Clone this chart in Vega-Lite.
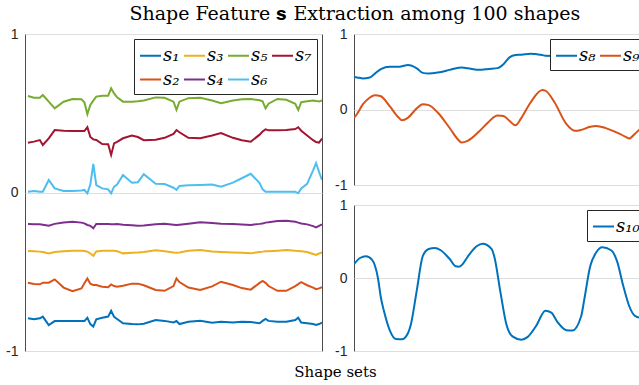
{
  "$schema": "https://vega.github.io/schema/vega-lite/v6.json",
  "padding": {"left": 5, "top": 4, "right": 0, "bottom": 0},
  "title": {"text": "Shape Feature 𝐬 Extraction among 100 shapes", "font": "DejaVu Serif", "fontSize": 19, "fontWeight": "normal", "color": "#000000", "anchor": "middle", "offset": 3, "dx": 27},
  "config": {
    "view": {"stroke": "#4d4d4d", "strokeWidth": 1},
    "axis": {"labelFont": "Liberation Sans", "labelFontSize": 14, "labelColor": "#262626", "gridColor": "#dedede", "gridWidth": 1, "domain": false, "ticks": false},
    "legend": {"orient": "top-right", "offset": 5, "symbolType": "stroke", "symbolSize": 440, "symbolStrokeWidth": 2, "labelFont": "DejaVu Serif", "labelFontStyle": "italic", "labelFontSize": 18, "labelColor": "#000000", "labelOffset": 1, "columnPadding": 0, "rowPadding": 3, "padding": 5, "strokeColor": "#262626", "fillColor": "#ffffff", "title": null, "cornerRadius": 0}
  },
  "bounds": "flush",
  "spacing": 32,
  "resolve": {"scale": {"color": "independent", "x": "independent", "y": "independent"}, "legend": {"color": "independent"}},
  "hconcat": [
    {
      "width": 297,
      "height": 317,
      "data": {"values": [
        {"x":1,"s1":-0.794,"s2":-0.569,"s3":-0.369,"s4":-0.199,"s5":0.609,"s6":0.005,"s7":0.314},
        {"x":3,"s1":-0.800,"s2":-0.577,"s3":-0.370,"s4":-0.200,"s5":0.598,"s6":0.010,"s7":0.321},
        {"x":5,"s1":-0.794,"s2":-0.579,"s3":-0.373,"s4":-0.201,"s5":0.598,"s6":0.005,"s7":0.331},
        {"x":6,"s1":-0.783,"s2":-0.569,"s3":-0.376,"s4":-0.203,"s5":0.615,"s6":0.005,"s7":0.300},
        {"x":8,"s1":-0.836,"s2":-0.569,"s3":-0.384,"s4":-0.209,"s5":0.573,"s6":0.079,"s7":0.342},
        {"x":10,"s1":-0.811,"s2":-0.548,"s3":-0.376,"s4":-0.198,"s5":0.531,"s6":0.026,"s7":0.394},
        {"x":13,"s1":-0.811,"s2":-0.600,"s3":-0.370,"s4":-0.190,"s5":0.573,"s6":0.010,"s7":0.390},
        {"x":16,"s1":-0.811,"s2":-0.623,"s3":-0.367,"s4":-0.184,"s5":0.590,"s6":0.010,"s7":0.388},
        {"x":19,"s1":-0.811,"s2":-0.605,"s3":-0.368,"s4":-0.190,"s5":0.588,"s6":0.012,"s7":0.388},
        {"x":20,"s1":-0.811,"s2":-0.573,"s3":-0.369,"s4":-0.195,"s5":0.570,"s6":0.016,"s7":0.388},
        {"x":21,"s1":-0.790,"s2":-0.542,"s3":-0.373,"s4":-0.205,"s5":0.495,"s6":-0.005,"s7":0.412},
        {"x":22,"s1":-0.830,"s2":-0.575,"s3":-0.385,"s4":-0.210,"s5":0.552,"s6":0.050,"s7":0.350},
        {"x":23,"s1":-0.846,"s2":-0.584,"s3":-0.399,"s4":-0.226,"s5":0.580,"s6":0.180,"s7":0.335},
        {"x":24,"s1":-0.800,"s2":-0.584,"s3":-0.372,"s4":-0.199,"s5":0.605,"s6":0.047,"s7":0.331},
        {"x":26,"s1":-0.790,"s2":-0.594,"s3":-0.367,"s4":-0.199,"s5":0.611,"s6":0.026,"s7":0.306},
        {"x":28,"s1":-0.783,"s2":-0.598,"s3":-0.367,"s4":-0.199,"s5":0.611,"s6":0.020,"s7":0.305},
        {"x":29,"s1":-0.746,"s2":-0.580,"s3":-0.367,"s4":-0.201,"s5":0.657,"s6":-0.005,"s7":0.237},
        {"x":30,"s1":-0.785,"s2":-0.590,"s3":-0.367,"s4":-0.200,"s5":0.625,"s6":0.037,"s7":0.310},
        {"x":31,"s1":-0.798,"s2":-0.594,"s3":-0.370,"s4":-0.199,"s5":0.600,"s6":0.050,"s7":0.320},
        {"x":33,"s1":-0.825,"s2":-0.588,"s3":-0.384,"s4":-0.203,"s5":0.573,"s6":0.110,"s7":0.342},
        {"x":36,"s1":-0.830,"s2":-0.575,"s3":-0.380,"s4":-0.207,"s5":0.573,"s6":0.062,"s7":0.360},
        {"x":38,"s1":-0.832,"s2":-0.575,"s3":-0.378,"s4":-0.209,"s5":0.575,"s6":0.065,"s7":0.350},
        {"x":40,"s1":-0.828,"s2":-0.585,"s3":-0.375,"s4":-0.208,"s5":0.580,"s6":0.115,"s7":0.330},
        {"x":44,"s1":-0.804,"s2":-0.615,"s3":-0.365,"s4":-0.200,"s5":0.600,"s6":0.055,"s7":0.333},
        {"x":47,"s1":-0.810,"s2":-0.620,"s3":-0.370,"s4":-0.197,"s5":0.598,"s6":0.053,"s7":0.345},
        {"x":50,"s1":-0.820,"s2":-0.590,"s3":-0.378,"s4":-0.203,"s5":0.573,"s6":0.030,"s7":0.370},
        {"x":51,"s1":-0.811,"s2":-0.542,"s3":-0.380,"s4":-0.205,"s5":0.521,"s6":0.016,"s7":0.394},
        {"x":52,"s1":-0.830,"s2":-0.565,"s3":-0.378,"s4":-0.203,"s5":0.573,"s6":0.041,"s7":0.380},
        {"x":55,"s1":-0.815,"s2":-0.600,"s3":-0.368,"s4":-0.197,"s5":0.595,"s6":0.045,"s7":0.345},
        {"x":59,"s1":-0.809,"s2":-0.615,"s3":-0.363,"s4":-0.188,"s5":0.598,"s6":0.047,"s7":0.342},
        {"x":63,"s1":-0.821,"s2":-0.592,"s3":-0.372,"s4":-0.193,"s5":0.580,"s6":0.050,"s7":0.360},
        {"x":66,"s1":-0.816,"s2":-0.563,"s3":-0.375,"s4":-0.197,"s5":0.563,"s6":0.037,"s7":0.375},
        {"x":70,"s1":-0.820,"s2":-0.584,"s3":-0.378,"s4":-0.199,"s5":0.580,"s6":0.062,"s7":0.345},
        {"x":73,"s1":-0.815,"s2":-0.603,"s3":-0.380,"s4":-0.202,"s5":0.588,"s6":0.090,"s7":0.330},
        {"x":76,"s1":-0.817,"s2":-0.613,"s3":-0.384,"s4":-0.205,"s5":0.590,"s6":0.118,"s7":0.320},
        {"x":79,"s1":-0.825,"s2":-0.570,"s3":-0.375,"s4":-0.198,"s5":0.582,"s6":0.060,"s7":0.365},
        {"x":80,"s1":-0.810,"s2":-0.558,"s3":-0.373,"s4":-0.195,"s5":0.575,"s6":0.020,"s7":0.385},
        {"x":81,"s1":-0.798,"s2":-0.570,"s3":-0.370,"s4":-0.190,"s5":0.531,"s6":0.005,"s7":0.398},
        {"x":82,"s1":-0.810,"s2":-0.590,"s3":-0.370,"s4":-0.188,"s5":0.560,"s6":0.005,"s7":0.392},
        {"x":85,"s1":-0.815,"s2":-0.620,"s3":-0.367,"s4":-0.180,"s5":0.590,"s6":0.005,"s7":0.392},
        {"x":88,"s1":-0.815,"s2":-0.620,"s3":-0.363,"s4":-0.178,"s5":0.585,"s6":0.005,"s7":0.394},
        {"x":91,"s1":-0.805,"s2":-0.590,"s3":-0.368,"s4":-0.185,"s5":0.560,"s6":0.005,"s7":0.400},
        {"x":92,"s1":-0.790,"s2":-0.578,"s3":-0.369,"s4":-0.190,"s5":0.521,"s6":-0.005,"s7":0.412},
        {"x":93,"s1":-0.820,"s2":-0.565,"s3":-0.370,"s4":-0.195,"s5":0.570,"s6":0.026,"s7":0.390},
        {"x":95,"s1":-0.825,"s2":-0.585,"s3":-0.376,"s4":-0.201,"s5":0.575,"s6":0.055,"s7":0.360},
        {"x":97,"s1":-0.830,"s2":-0.600,"s3":-0.388,"s4":-0.212,"s5":0.580,"s6":0.140,"s7":0.330},
        {"x":98,"s1":-0.836,"s2":-0.610,"s3":-0.394,"s4":-0.220,"s5":0.578,"s6":0.186,"s7":0.318},
        {"x":99,"s1":-0.830,"s2":-0.605,"s3":-0.385,"s4":-0.210,"s5":0.575,"s6":0.130,"s7":0.315},
        {"x":100,"s1":-0.821,"s2":-0.598,"s3":-0.378,"s4":-0.201,"s5":0.580,"s6":0.079,"s7":0.340}
      ]},
      "transform": [{"fold": ["s1","s2","s3","s4","s5","s6","s7"], "as": ["series","value"]}],
      "mark": {"type": "line", "strokeWidth": 2, "clip": true},
      "encoding": {
        "x": {"field": "x", "type": "quantitative", "scale": {"domain": [0, 100], "nice": false, "zero": false},
              "axis": {"labels": false, "grid": false, "title": "Shape sets", "titleFont": "DejaVu Serif", "titleFontSize": 15, "titleFontWeight": "normal", "titleColor": "#000000", "titleX": 310, "titleY": 25, "titleBaseline": "alphabetic", "titleAlign": "center", "titleAnchor": null}},
        "y": {"field": "value", "type": "quantitative", "scale": {"domain": [-1, 1], "nice": false},
              "axis": {"values": [-1, 0, 1], "title": null, "grid": true, "labelPadding": 7, "labelExpr": "datum.value < 0 ? '-1' : datum.value > 0 ? '1' : '0'"}},
        "color": {"field": "series", "type": "nominal",
                  "scale": {"domain": ["s1","s2","s3","s4","s5","s6","s7"], "range": ["#0072BD","#D95319","#EDB120","#7E2F8E","#77AC30","#4DBEEE","#A2142F"]},
                  "legend": {"columns": 4, "labelExpr": "datum.label == 's1' ? 's₁' : datum.label == 's2' ? 's₂' : datum.label == 's3' ? 's₃' : datum.label == 's4' ? 's₄' : datum.label == 's5' ? 's₅' : datum.label == 's6' ? 's₆' : 's₇'"}}
      }
    },
    {
      "bounds": "flush",
      "spacing": 20,
      "resolve": {"scale": {"color": "independent", "x": "independent", "y": "independent"}, "legend": {"color": "independent"}},
      "vconcat": [
        {
          "width": 296,
          "height": 151,
          "data": {"values": [
            {"x":1,"s8":0.430,"s9":-0.110},
            {"x":2,"s8":0.425,"s9":-0.060},
            {"x":4,"s8":0.412,"s9":0.070},
            {"x":6,"s8":0.420,"s9":0.150},
            {"x":8,"s8":0.475,"s9":0.190},
            {"x":10,"s8":0.535,"s9":0.175},
            {"x":13,"s8":0.566,"s9":0.040},
            {"x":16,"s8":0.566,"s9":-0.110},
            {"x":17,"s8":0.572,"s9":-0.142},
            {"x":19,"s8":0.588,"s9":-0.110},
            {"x":22,"s8":0.545,"s9":0.015},
            {"x":24,"s8":0.485,"s9":0.070},
            {"x":26,"s8":0.478,"s9":0.058},
            {"x":29,"s8":0.490,"s9":-0.040},
            {"x":33,"s8":0.525,"s9":-0.245},
            {"x":36,"s8":0.553,"s9":-0.407},
            {"x":37,"s8":0.555,"s9":-0.438},
            {"x":39,"s8":0.546,"s9":-0.415},
            {"x":43,"s8":0.525,"s9":-0.285},
            {"x":46,"s8":0.538,"s9":-0.164},
            {"x":49,"s8":0.548,"s9":-0.080},
            {"x":51,"s8":0.600,"s9":-0.085},
            {"x":53,"s8":0.690,"s9":-0.150},
            {"x":55,"s8":0.722,"s9":-0.210},
            {"x":57,"s8":0.726,"s9":-0.110},
            {"x":60,"s8":0.740,"s9":0.090},
            {"x":64,"s8":0.720,"s9":0.257},
            {"x":65,"s8":0.712,"s9":0.250},
            {"x":68,"s8":0.710,"s9":0.100},
            {"x":72,"s8":0.720,"s9":-0.190},
            {"x":75,"s8":0.730,"s9":-0.283},
            {"x":77,"s8":0.740,"s9":-0.270},
            {"x":80,"s8":0.750,"s9":-0.228},
            {"x":82,"s8":0.760,"s9":-0.217},
            {"x":85,"s8":0.775,"s9":-0.243},
            {"x":88,"s8":0.790,"s9":-0.290},
            {"x":92,"s8":0.820,"s9":-0.365},
            {"x":93,"s8":0.830,"s9":-0.385},
            {"x":95,"s8":0.845,"s9":-0.320},
            {"x":97,"s8":0.855,"s9":-0.245},
            {"x":100,"s8":0.870,"s9":-0.130}
          ]},
          "transform": [{"fold": ["s8","s9"], "as": ["series","value"]}],
          "mark": {"type": "line", "strokeWidth": 2, "interpolate": "monotone", "clip": true},
          "encoding": {
            "x": {"field": "x", "type": "quantitative", "scale": {"domain": [1, 100], "nice": false, "zero": false}, "axis": null},
            "y": {"field": "value", "type": "quantitative", "scale": {"domain": [-1, 1], "nice": false},
                  "axis": {"values": [-1, 0, 1], "title": null, "grid": true, "labelPadding": 7, "labelExpr": "datum.value < 0 ? '-1' : datum.value > 0 ? '1' : '0'"}},
            "color": {"field": "series", "type": "nominal",
                      "scale": {"domain": ["s8","s9"], "range": ["#0072BD","#D95319"]},
                      "legend": {"columns": 2, "labelExpr": "datum.label == 's8' ? 's₈' : 's₉'"}}
          }
        },
        {
          "width": 296,
          "height": 146,
          "data": {"values": [
            {"x":1,"s10":0.190},
            {"x":3,"s10":0.274},
            {"x":5,"s10":0.297},
            {"x":7,"s10":0.251},
            {"x":9,"s10":0.000},
            {"x":10,"s10":-0.270},
            {"x":11,"s10":-0.450},
            {"x":13,"s10":-0.720},
            {"x":15,"s10":-0.835},
            {"x":17,"s10":-0.840},
            {"x":19,"s10":-0.760},
            {"x":20,"s10":-0.640},
            {"x":22,"s10":-0.170},
            {"x":24,"s10":0.300},
            {"x":26,"s10":0.397},
            {"x":28,"s10":0.411},
            {"x":30,"s10":0.380},
            {"x":33,"s10":0.260},
            {"x":35,"s10":0.160},
            {"x":36,"s10":0.155},
            {"x":37,"s10":0.175},
            {"x":39,"s10":0.290},
            {"x":42,"s10":0.434},
            {"x":44,"s10":0.470},
            {"x":47,"s10":0.400},
            {"x":48,"s10":0.280},
            {"x":50,"s10":-0.200},
            {"x":52,"s10":-0.640},
            {"x":54,"s10":-0.800},
            {"x":57,"s10":-0.845},
            {"x":59,"s10":-0.810},
            {"x":62,"s10":-0.650},
            {"x":65,"s10":-0.447},
            {"x":67,"s10":-0.475},
            {"x":69,"s10":-0.600},
            {"x":72,"s10":-0.715},
            {"x":74,"s10":-0.720},
            {"x":77,"s10":-0.520},
            {"x":78,"s10":-0.300},
            {"x":80,"s10":0.160},
            {"x":82,"s10":0.350},
            {"x":84,"s10":0.420},
            {"x":87,"s10":0.380},
            {"x":89,"s10":0.228},
            {"x":91,"s10":-0.100},
            {"x":93,"s10":-0.380},
            {"x":95,"s10":-0.520},
            {"x":97,"s10":-0.545},
            {"x":99,"s10":-0.500},
            {"x":100,"s10":-0.450}
          ]},
          "transform": [{"fold": ["s10"], "as": ["series","value"]}],
          "mark": {"type": "line", "strokeWidth": 2, "interpolate": "monotone", "clip": true},
          "encoding": {
            "x": {"field": "x", "type": "quantitative", "scale": {"domain": [1, 100], "nice": false, "zero": false}, "axis": null},
            "y": {"field": "value", "type": "quantitative", "scale": {"domain": [-1, 1], "nice": false},
                  "axis": {"values": [-1, 0, 1], "title": null, "grid": true, "labelPadding": 7, "labelExpr": "datum.value < 0 ? '-1' : datum.value > 0 ? '1' : '0'"}},
            "color": {"field": "series", "type": "nominal",
                      "scale": {"domain": ["s10"], "range": ["#0072BD"]},
                      "legend": {"labelExpr": "'s₁₀'"}}
          }
        }
      ]
    }
  ]
}
